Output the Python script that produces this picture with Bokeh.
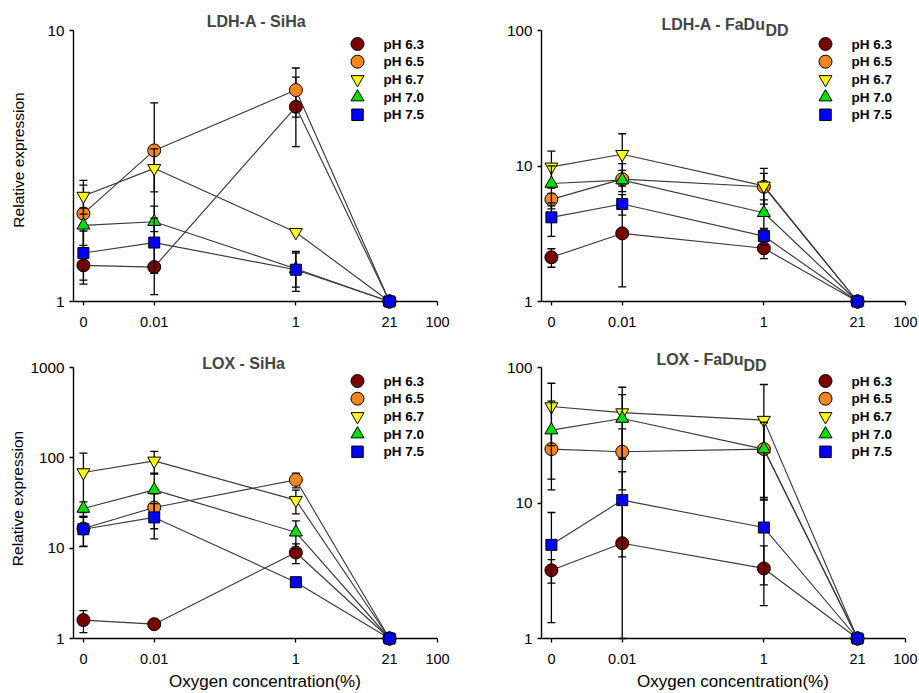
import math
from bokeh.plotting import figure
from bokeh.models import (Range1d, FixedTicker, Label, Whisker, TeeHead, ColumnDataSource,
                          PrintfTickFormatter, LinearScale, Span)
from bokeh.core.properties import value
from bokeh.layouts import row, column
from bokeh.embed import file_html
from bokeh.resources import INLINE

# ---------------- data ----------------
oxygen = [0, 0.01, 1, 21]                     # % O2
x_ticks = [0, 0.01, 1, 21, 100]
x_tick_labels = ["0", "0.01", "1", "21", "100"]
ph_labels = ["pH 6.3", "pH 6.5", "pH 6.7", "pH 7.0", "pH 7.5"]

# relative expression (rows: pH 6.3, 6.5, 6.7, 7.0, 7.5 ; columns: oxygen)
ldha_siha_mean = [[1.36, 1.34, 5.23, 1], [2.11, 3.61, 6.03, 1], [2.45, 3.10, 1.80, 1],
                  [1.91, 1.97, 1.32, 1], [1.51, 1.65, 1.31, 1]]
ldha_siha_err = [[0.20, 0.28, 1.50, 0], [0.58, 1.80, 1.24, 0], [0.35, 0.56, 0, 0],
                 [0.30, 0.28, 0.19, 0], [0.31, 0.38, 0.22, 0]]

ldha_fadu_mean = [[2.12, 3.18, 2.47, 1], [5.67, 8.00, 7.03, 1], [9.86, 12.2, 7.14, 1],
                  [7.43, 7.87, 4.52, 1], [4.18, 5.24, 3.04, 1]]
ldha_fadu_err = [[0.33, 1.90, 0.40, 0], [0.60, 2.40, 1.80, 0], [3.00, 5.10, 2.45, 0],
                 [2.60, 1.40, 1.10, 0], [1.16, 0.90, 0.43, 0]]

lox_siha_mean = [[1.60, 1.44, 8.95, 1], [16.5, 28.2, 57.1, 1], [68.8, 92.6, 34.0, 1],
                 [27.5, 44.2, 15.0, 1], [16.2, 21.9, 4.2, 1]]
lox_siha_err = [[0.44, 0, 2.20, 0], [6.0, 11.8, 10.6, 0], [44, 25, 10, 0],
                [5.0, 22, 5.1, 0], [5.8, 9.2, 0, 0]]

lox_fadu_mean = [[3.19, 5.05, 3.29, 1], [25.0, 23.9, 25.0, 1], [51.5, 46.5, 40.9, 1],
                 [34.5, 42.0, 25.0, 1], [4.91, 10.5, 6.59, 1]]
lox_fadu_err = [[0.63, 5.5, 1.54, 0], [10.0, 11.4, 14.0, 0], [25, 25, 34, 0],
                [22, 21, 14.5, 0], [3.6, 6.5, 4.1, 0]]

# ---------------- style ----------------
FONT = "Liberation Sans"
ph_colors = ["#7a0000", "#f7861e", "#ffff00", "#00e000", "#0000ff"]
ph_markers = ["circle", "circle", "inverted_triangle", "triangle", "square"]
ph_sizes = [13, 13, 13, 13, 11]
ZERO_POS = 0.001      # where "0 %" sits on the log axis
FRAME_W = 364
AXIS_PX = 271         # pixel length of the y axis (1 .. ymax)
BOT_PAD = 8           # frame extends below y = 1 so the markers there are not clipped


def xpos(v):
    return ZERO_POS if v == 0 else v


def make_panel(means, errs, ymax, title_main, title_sub, tx, ty, left, right,
               top_pad, bottom, ylabel_standoff=None, xlabel=None):
    dec = math.log10(ymax)
    pxdec = AXIS_PX / dec
    frame_h = AXIS_PX + BOT_PAD + top_pad
    yr = Range1d(10 ** (-BOT_PAD / pxdec), ymax * 10 ** (top_pad / pxdec))
    p = figure(x_axis_type="log", y_axis_type="log",
               x_range=Range1d(10 ** -3.14, 100), y_range=yr,
               frame_width=FRAME_W, frame_height=frame_h,
               min_border_left=left, min_border_right=right,
               min_border_top=10, min_border_bottom=bottom,
               output_backend="svg", toolbar_location=None)
    p.outline_line_color = None
    p.grid.visible = False
    p.background_fill_color = "white"
    p.border_fill_color = "white"
    p.extra_x_ranges = {"px": Range1d(0, FRAME_W)}
    p.extra_y_ranges = {"px": Range1d(0, frame_h)}
    p.extra_x_scales = {"px": LinearScale()}
    p.extra_y_scales = {"px": LinearScale()}

    xa = p.xaxis[0]
    xa.ticker = FixedTicker(ticks=[xpos(t) for t in x_ticks], minor_ticks=[])
    xa.major_label_overrides = {xpos(t): lab for t, lab in zip(x_ticks, x_tick_labels)}
    xa.axis_line_color = None
    ya = p.yaxis[0]
    ya.ticker = FixedTicker(ticks=[10 ** k for k in range(int(round(dec)) + 1)], minor_ticks=[])
    ya.formatter = PrintfTickFormatter(format="%g")
    ya.bounds = (1, ymax)
    ya.axis_line_color = "black"
    ya.axis_line_width = 1.4
    for ax in (xa, ya):
        ax.major_tick_line_color = "black"
        ax.major_tick_line_width = 1.3
        ax.minor_tick_line_color = None
        ax.major_label_text_font = FONT
        ax.major_label_text_color = "black"
    xa.major_label_text_font_size = "14.5px"
    ya.major_label_text_font_size = "15.3px"
    ya.major_tick_in = 0
    ya.major_tick_out = 4
    ya.major_label_standoff = 5
    xa.major_tick_in = BOT_PAD
    xa.major_tick_out = 4 - BOT_PAD
    xa.major_label_standoff = 7
    p.add_layout(Span(location=1, dimension="width", line_color="black",
                      line_width=1.4, level="underlay"))

    for i in range(len(ph_labels)):
        m = means[i]
        e = errs[i]
        src = ColumnDataSource(dict(
            x=[xpos(o) for o in oxygen], y=m,
            upper=[a + b if b > 0 else float("nan") for a, b in zip(m, e)],
            lower=[max(a - b, 1) if b > 0 else float("nan") for a, b in zip(m, e)]))
        p.line("x", "y", source=src, line_color="#3a3a3a", line_width=1.15)
        w = Whisker(source=src, base="x", upper="upper", lower="lower", dimension="height",
                    line_color="black", line_width=1.3, level="glyph",
                    upper_head=TeeHead(size=8, line_width=1.3, line_color="black"),
                    lower_head=TeeHead(size=8, line_width=1.3, line_color="black"))
        p.renderers.append(w)
        p.scatter("x", "y", source=src, marker=ph_markers[i], size=ph_sizes[i],
                  fill_color=ph_colors[i], line_color="black", line_width=1)

    # legend (drawn in pixel units inside the frame)
    leg_y = [frame_h - top_pad - 13.5 - 17.7 * k for k in range(len(ph_labels))]
    leg = ColumnDataSource(dict(x=[284] * len(ph_labels), tx=[310] * len(ph_labels), y=leg_y,
                                marker=ph_markers, color=ph_colors,
                                size=[13, 13, 13, 13, 11.5], label=ph_labels))
    p.scatter("x", "y", source=leg, marker="marker", size="size", fill_color="color",
              line_color="black", line_width=1, x_range_name="px", y_range_name="px")
    p.text("tx", "y", text="label", source=leg, x_range_name="px", y_range_name="px",
           text_font=value(FONT), text_font_style="bold", text_font_size="13.5px",
           text_color="black", text_align="left", text_baseline="middle")

    # title
    if title_sub:
        p.add_layout(Label(x=tx, y=ty, x_units="screen", y_units="screen", text=title_main,
                           text_font=FONT, text_font_style="bold", text_font_size="16px",
                           text_align="right", text_baseline="middle"))
        p.add_layout(Label(x=tx, y=ty - 6, x_units="screen", y_units="screen", text=title_sub,
                           text_font=FONT, text_font_style="bold", text_font_size="16px",
                           text_align="left", text_baseline="middle"))
    else:
        p.add_layout(Label(x=tx, y=ty, x_units="screen", y_units="screen", text=title_main,
                           text_font=FONT, text_font_style="bold", text_font_size="16px",
                           text_align="center", text_baseline="middle"))
    if ylabel_standoff is not None:
        ya.axis_label = "Relative expression"
        ya.axis_label_text_font = FONT
        ya.axis_label_text_font_size = "15.5px"
        ya.axis_label_text_font_style = "normal"
        ya.axis_label_text_color = "black"
        ya.axis_label_standoff = ylabel_standoff
    if xlabel:
        xa.axis_label = "\u00a0\u00a0\u00a0\u00a0" + xlabel
        xa.axis_label_text_font = FONT
        xa.axis_label_text_font_size = "17px"
        xa.axis_label_text_font_style = "normal"
        xa.axis_label_text_color = "black"
        xa.axis_label_standoff = 5
    return p


p1 = make_panel(ldha_siha_mean, ldha_siha_err, 10, "LDH-A - SiHa", None, 183, 288,
                73, 23, 20, 31, ylabel_standoff=17)
p2 = make_panel(ldha_fadu_mean, ldha_fadu_err, 100, "LDH-A - FaDu", "DD", 224, 285,
                81, 12, 20, 31)
p3 = make_panel(lox_siha_mean, lox_siha_err, 1000, "LOX - SiHa", None, 170, 283,
                73, 23, 17, 46, ylabel_standoff=1, xlabel="Oxygen concentration(%)")
p4 = make_panel(lox_fadu_mean, lox_fadu_err, 100, "LOX - FaDu", "DD", 202, 287,
                81, 12, 17, 46, xlabel="Oxygen concentration(%)")

layout = column(row(p1, p2), row(p3, p4))
open("out.html", "w").write(file_html(layout, INLINE))
